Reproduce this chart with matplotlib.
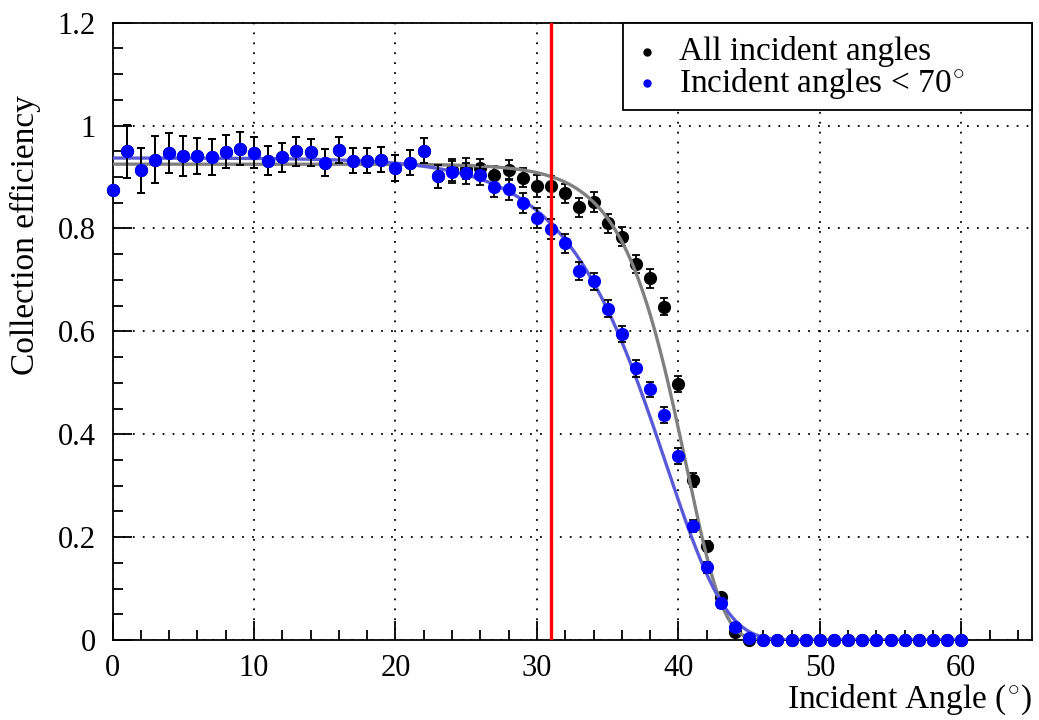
import math
import numpy as np
import matplotlib
matplotlib.use("Agg")
import matplotlib.pyplot as plt
from matplotlib.patches import Rectangle
from matplotlib.ticker import MultipleLocator

plt.rcParams['font.family'] = ['Liberation Serif', 'DejaVu Serif']
plt.rcParams['mathtext.fontset'] = 'cm'

# ---------------- data ----------------
angles = list(range(0, 61))

eff_lt70 = [0.875, 0.950, 0.913, 0.934, 0.947, 0.940, 0.941, 0.938, 0.949, 0.955,
            0.947, 0.932, 0.938, 0.950, 0.948, 0.928, 0.953, 0.932, 0.932, 0.934,
            0.918, 0.928, 0.951, 0.901, 0.910, 0.907, 0.904, 0.881, 0.876, 0.849,
            0.820, 0.799, 0.771, 0.717, 0.697, 0.644, 0.595, 0.528, 0.487, 0.437,
            0.358, 0.222, 0.141, 0.071, 0.025, 0.003, 0.0, 0.0, 0.0, 0.0,
            0.0, 0.0, 0.0, 0.0, 0.0, 0.0, 0.0, 0.0, 0.0, 0.0, 0.0]

eff_all = [0.875, 0.950, 0.913, 0.934, 0.947, 0.940, 0.941, 0.938, 0.949, 0.955,
           0.947, 0.932, 0.938, 0.950, 0.948, 0.928, 0.953, 0.932, 0.932, 0.934,
           0.918, 0.928, 0.951, 0.901, 0.914, 0.916, 0.917, 0.903, 0.914, 0.899,
           0.883, 0.882, 0.868, 0.841, 0.851, 0.810, 0.784, 0.731, 0.703, 0.648,
           0.498, 0.311, 0.183, 0.083, 0.015, 0.0, 0.0, 0.0, 0.0, 0.0,
           0.0, 0.0, 0.0, 0.0, 0.0, 0.0, 0.0, 0.0, 0.0, 0.0, 0.0]

err_lt70 = [0.0, 0.052, 0.044, 0.045, 0.039, 0.039, 0.035, 0.035, 0.032, 0.032,
            0.030, 0.029, 0.028, 0.028, 0.026, 0.026, 0.025, 0.024, 0.024, 0.025,
            0.025, 0.024, 0.024, 0.023, 0.021, 0.020, 0.020, 0.020, 0.020, 0.019,
            0.019, 0.019, 0.019, 0.018, 0.017, 0.016, 0.016, 0.016, 0.015, 0.015,
            0.015, 0.012, 0.010, 0.008, 0.005, 0.003, 0.0, 0.0, 0.0, 0.0,
            0.0, 0.0, 0.0, 0.0, 0.0, 0.0, 0.0, 0.0, 0.0, 0.0, 0.0]

err_all = [0.0, 0.052, 0.044, 0.045, 0.039, 0.039, 0.035, 0.035, 0.032, 0.032,
           0.030, 0.029, 0.028, 0.028, 0.026, 0.026, 0.025, 0.024, 0.024, 0.025,
           0.025, 0.024, 0.024, 0.022, 0.021, 0.020, 0.018, 0.018, 0.020, 0.019,
           0.021, 0.020, 0.019, 0.019, 0.019, 0.019, 0.019, 0.017, 0.018, 0.017,
           0.015, 0.013, 0.010, 0.008, 0.005, 0.0, 0.0, 0.0, 0.0, 0.0,
           0.0, 0.0, 0.0, 0.0, 0.0, 0.0, 0.0, 0.0, 0.0, 0.0, 0.0]

# fitted model parameters (Gumbel-like cutoff): A * exp(-exp((x - mu) / s))
fit_all = dict(A=0.925, mu=40.55, s=2.63)
fit_lt70 = dict(A=0.937, mu=39.1, s=4.22)
fit_range = (0.0, 60.0)

cut_angle = 31.0

legend_labels = ["All incident angles", r"Incident angles < 70$^{\circ}$"]
xlabel = r"Incident Angle ($^{\circ}$)"
ylabel = "Collection efficiency"


def model(x, A, mu, s):
    return A * np.exp(-np.exp((x - mu) / s))


# ---------------- figure ----------------
fig = plt.figure(figsize=(10.39, 7.2), dpi=100)
ax = fig.add_axes([0.1083, 0.1111, 0.9933 - 0.1083, 0.9685 - 0.1111])

ax.set_xlim(0, 65)
ax.set_ylim(0, 1.2)

ax.xaxis.set_major_locator(MultipleLocator(10))
ax.xaxis.set_minor_locator(MultipleLocator(2))
ax.yaxis.set_major_locator(MultipleLocator(0.2))
ax.yaxis.set_minor_locator(MultipleLocator(0.05))
ax.yaxis.set_major_formatter(matplotlib.ticker.FuncFormatter(
    lambda v, p: "0" if abs(v) < 1e-9 else ("1" if abs(v - 1) < 1e-9 else f"{v:.1f}")))

ax.tick_params(which='both', direction='in', top=False, right=False,
               labelsize=22, width=1.3)
ax.tick_params(which='major', length=14)
ax.tick_params(which='minor', length=7)
ax.tick_params(axis='x', pad=10)
ax.tick_params(axis='y', pad=12)

for sp in ax.spines.values():
    sp.set_linewidth(1.3)

ax.grid(True, which='major', color='black', linestyle=(0, (1, 4.5)), linewidth=1.3)
ax.set_axisbelow(True)

x = np.array(angles, dtype=float)

# All incident angles (black)
ax.errorbar(x, eff_all, yerr=err_all, fmt='o', color='black', ms=8.5,
            ecolor='black', elinewidth=1.3, capsize=3.2, capthick=1.3,
            zorder=3, clip_on=False)

xf = np.linspace(fit_range[0], fit_range[1], 600)
ax.plot(xf, model(xf, **fit_all), color='#808080', lw=2.4, zorder=4)
ax.plot(xf, model(xf, **fit_lt70), color='#5a5ad8', lw=2.4, zorder=4)

# Incident angles < 70 (blue)
ax.errorbar(x, eff_lt70, yerr=err_lt70, fmt='o', color='#0000ff', ms=8.5,
            ecolor='black', elinewidth=1.3, capsize=3.2, capthick=1.3,
            zorder=5, clip_on=False)

ax.axvline(cut_angle, color='#ff0000', lw=2.4, zorder=6)

# legend box
lx0, ly0 = 0.555, 0.8586
ax.add_patch(Rectangle((lx0, ly0), 1.0 - lx0, 1.0 - ly0, transform=ax.transAxes,
                       facecolor='white', edgecolor='black', lw=1.3, zorder=8,
                       clip_on=False))
for yy, col, lab in [(0.953, 'black', legend_labels[0]), (0.9017, '#0000ff', legend_labels[1])]:
    ax.plot([0.581], [yy], 'o', color=col, ms=5, transform=ax.transAxes, zorder=9,
            clip_on=False)
    ax.text(0.616, yy, lab, transform=ax.transAxes, fontsize=24, va='center',
            ha='left', zorder=9)

fig.text(1033 / 1039, 1 - 708 / 720, xlabel, ha='right', va='baseline', fontsize=24)
fig.text(25 / 1039, 1 - 95 / 720, ylabel, ha='center', va='top', rotation=90, fontsize=24)

fig.savefig("out.png", dpi=100)
